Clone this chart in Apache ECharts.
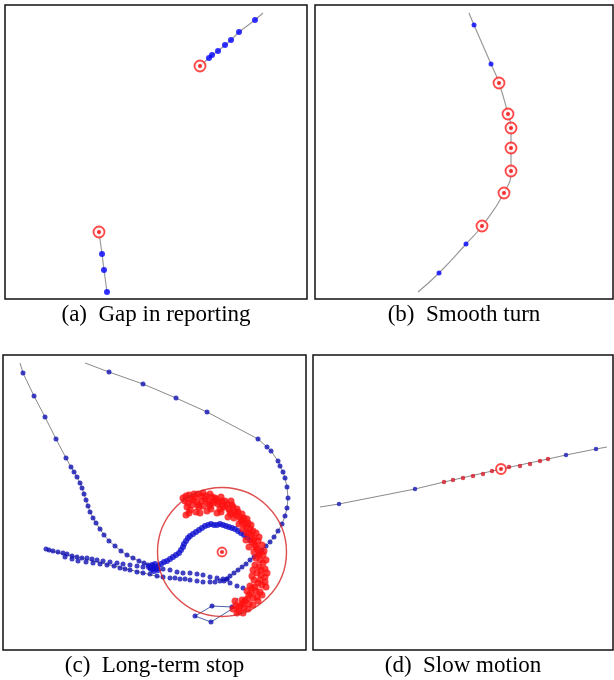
<!DOCTYPE html>
<html>
<head>
<meta charset="utf-8">
<script src="https://cdn.jsdelivr.net/npm/echarts@6/dist/echarts.min.js"></script>
<style>
  html, body { margin: 0; padding: 0; background: #fff; }
  #main { width: 614px; height: 680px; }
</style>
</head>
<body>
<div id="main"></div>
<script>
// panel captions
var captions = ['(a)  Gap in reporting', '(b)  Smooth turn', '(c)  Long-term stop', '(d)  Slow motion'];

// (a) gap in reporting: [x, y] in panel units, y down
var gapTrackTop = [[258, 8], [250, 15], [234, 27], [226, 35], [220, 40], [213, 46], [207, 50], [204, 53], [195, 61]];
var gapTrackBottom = [[94, 227], [97, 249], [99, 265], [102, 287]];
var gapFixes = [[250, 15], [234, 27], [226, 35], [220, 40], [213, 46], [207, 50], [204, 53], [97, 249], [99, 265], [102, 287]];
var gapEvents = [[195, 61], [94, 227]];

// (b) smooth turn
var turnTrack = [[154, 8], [159, 20], [176, 59], [184, 78], [193, 109], [196, 123], [196, 143], [196, 166], [189, 188], [167, 221], [151, 239], [124, 268], [103, 287]];
var turnFixes = [[159, 20], [176, 59], [151, 239], [124, 268]];
var turnEvents = [[184, 78], [193, 109], [196, 123], [196, 143], [196, 166], [189, 188], [167, 221]];

// (c) long-term stop
var stopTrackA = [[17, 8], [20, 18], [31, 41], [42, 62], [53, 84], [63, 103], [68, 112], [71, 117], [74, 122], [77, 128], [79, 133], [81, 139], [83, 145], [85, 151], [87, 157], [90, 163], [93, 168], [97, 174], [101, 180], [106, 186], [112, 191], [118, 196], [124, 200], [130, 203], [136, 206], [141, 208], [145, 210], [149, 212]];
var stopTrackB = [[82, 8], [106, 17], [140, 29], [173, 43], [204, 57], [255, 84], [264, 92], [268, 96], [275, 106], [277, 111], [280, 117], [282, 123], [284, 132], [285, 143], [284, 153], [282, 161], [279, 169], [275, 176], [271, 182], [267, 187], [263, 191], [259, 195], [255, 199], [251, 202], [247, 205], [243, 209], [239, 212], [235, 215], [231, 218], [227, 221], [224, 224], [221, 226]];
var stopTrackC = [[150, 214], [152, 213], [155, 211], [158, 209], [161, 207], [164, 206], [167, 204], [170, 202], [173, 200], [176, 198], [178, 195], [180, 192], [181, 189], [183, 186], [185, 183], [187, 181], [190, 179], [193, 177], [196, 175], [199, 173], [202, 171], [205, 170], [208, 169], [211, 170], [214, 170], [217, 169], [220, 170], [223, 171], [226, 172], [229, 173], [232, 174], [235, 176], [238, 178], [241, 180], [244, 182], [247, 185]];
var stopBundle1 = [[43, 194], [46, 195], [50, 196], [55, 197], [60, 198], [64, 199], [69, 201], [74, 202], [79, 203], [84, 203], [89, 204], [94, 205], [100, 206], [107, 207], [114, 208], [120, 209], [127, 210], [134, 211], [140, 212], [147, 213], [154, 214], [160, 214], [167, 215], [174, 217], [180, 218], [187, 218], [194, 219], [200, 220], [207, 222], [214, 223], [220, 224], [227, 228], [234, 231], [240, 233]];
var stopBundle2 = [[62, 202], [69, 204], [75, 206], [83, 207], [90, 208], [97, 209], [104, 210], [111, 211], [117, 213], [122, 214], [127, 215], [134, 217], [140, 218], [147, 219], [154, 221], [160, 222], [167, 223], [172, 223], [177, 224], [182, 224], [187, 225], [194, 226], [200, 227], [207, 227], [212, 227], [217, 226], [224, 224]];
var stopKnot = [[146, 212], [148, 214], [150, 211], [151, 216], [153, 213], [155, 215], [149, 210], [152, 209]];
var stopLink = [[44, 195], [157, 222]];
var stopDetour = [[235, 243], [229, 252], [209, 251], [192, 261], [208, 267], [237, 249]];
var stopDetourFixes = [[229, 252], [209, 251], [192, 261], [208, 267]];
var stopCluster = [
  [180, 143], [186, 140], [191, 139], [200, 138], [182, 146], [184, 152], [186, 158], [183, 160], [188, 144], [189, 150], [187, 155], [185, 148],
  [192, 142], [194, 147], [196, 152], [193, 157], [198, 141], [199, 146], [200, 151], [197, 158], [203, 141], [205, 146], [207, 151], [204, 156],
  [209, 142], [210, 148], [208, 154], [213, 144], [215, 149], [217, 154], [214, 158], [219, 146], [220, 151], [218, 157], [224, 149], [226, 154],
  [228, 159], [225, 162], [230, 152], [232, 157], [231, 163], [235, 157], [237, 162], [239, 167], [236, 169], [241, 163], [242, 169], [240, 174],
  [245, 168], [247, 174], [248, 180], [244, 178], [250, 176], [251, 183], [249, 187], [252, 190], [255, 186], [254, 194], [257, 197], [251, 197],
  [253, 203], [257, 205], [260, 200], [252, 210], [256, 212], [260, 208], [262, 214], [254, 218], [258, 220], [262, 222], [251, 225], [255, 228],
  [259, 230], [262, 227], [249, 233], [253, 236], [257, 237], [246, 240], [250, 243], [254, 242], [242, 246], [246, 249], [238, 250], [241, 253],
  [236, 256], [233, 251], [239, 245], [244, 236], [232, 246], [230, 254], [234, 258], [247, 231], [249, 221], [250, 215], [246, 192], [243, 185],
  [190, 145], [195, 150], [202, 144], [206, 149], [211, 146], [216, 147], [222, 152], [227, 157], [233, 160], [238, 165], [243, 172], [246, 178],
  [250, 185], [253, 192], [256, 200], [258, 215], [257, 225], [252, 232], [248, 238], [244, 244], [240, 248], [236, 252], [212, 143], [222, 146],
  [229, 150], [234, 154], [239, 159], [244, 164], [248, 170], [253, 178], [256, 182], [259, 190], [261, 196], [263, 205], [264, 218], [263, 232],
  [259, 240], [255, 246], [250, 250], [245, 254], [240, 258], [183, 141], [195, 139], [207, 139], [218, 142], [228, 146]
];
var stopCentre = [[219, 197]];

// (d) slow motion
var slowTrack = [[7, 152], [26, 149], [102, 134], [131, 127], [188, 114], [235, 104], [253, 100], [283, 94], [294, 92]];
var slowFixes = [[26, 149], [102, 134], [253, 100], [283, 94]];
var slowSlowFixes = [[131, 127], [140, 125], [150, 123], [160, 121], [170, 119], [179, 116], [196, 112], [207, 111], [217, 109], [227, 106], [235, 104]];
var slowEvents = [[188, 114]];

// panel frames in page pixels: left, top, width, height
var frames = [[5, 5, 302, 294], [315, 5, 298, 294], [3, 355, 303, 295], [313, 355, 300, 295]];

var grids = [], xAxes = [], yAxes = [], series = [];
frames.forEach(function (f, i) {
  grids.push({ left: f[0], top: f[1], width: f[2], height: f[3], show: true,
    borderColor: '#111', borderWidth: 1.5, backgroundColor: '#fff' });
  xAxes.push({ gridIndex: i, type: 'value', min: 0, max: f[2], show: false });
  yAxes.push({ gridIndex: i, type: 'value', min: 0, max: f[3], inverse: true, show: false });
});

function path(g, data, color, width, smooth) {
  series.push({ type: 'line', xAxisIndex: g, yAxisIndex: g, data: data, smooth: smooth || false,
    showSymbol: false, symbol: 'none', z: 2,
    lineStyle: { color: color, width: width } });
}
function dots(g, data, color, size, z) {
  series.push({ type: 'scatter', xAxisIndex: g, yAxisIndex: g, data: data, symbolSize: size, z: z || 3,
    itemStyle: { color: color } });
}
function targets(g, data, size) {
  series.push({ type: 'scatter', xAxisIndex: g, yAxisIndex: g, data: data, symbolSize: size, z: 5,
    itemStyle: { color: '#fff2f2', borderColor: '#ff1a1a', borderWidth: 1.8 } });
  series.push({ type: 'scatter', xAxisIndex: g, yAxisIndex: g, data: data, symbolSize: 4, z: 6,
    itemStyle: { color: '#ee0000' } });
}

// (a)
path(0, gapTrackTop, '#9a9a9a', 1.2);
path(0, gapTrackBottom, '#9a9a9a', 1.2);
dots(0, gapFixes, '#0000ff', 6);
targets(0, gapEvents, 11);

// (b)
path(1, turnTrack, '#9a9a9a', 1.2, 0.5);
dots(1, turnFixes, '#0000ff', 5);
targets(1, turnEvents, 11);

// (c)
path(2, stopTrackA, '#8a8a8a', 1);
path(2, stopTrackB, '#8a8a8a', 1);
path(2, stopLink, '#8a8a8a', 1);
path(2, stopDetour, '#4a64a8', 1);
dots(2, stopTrackA.slice(1), '#1212b4', 5);
dots(2, stopTrackB.slice(1), '#1212b4', 5);
dots(2, stopTrackC, '#1212d0', 6);
dots(2, stopBundle1, '#1212b4', 5);
dots(2, stopBundle2, '#1212b4', 5);
dots(2, stopKnot, '#1212d0', 6);
dots(2, stopDetourFixes, '#1212b4', 5);
dots(2, stopCluster, '#ff1010', 7, 4);
series.push({ type: 'scatter', xAxisIndex: 2, yAxisIndex: 2, data: stopCentre, symbolSize: 129, z: 4,
  itemStyle: { color: 'rgba(0,0,0,0)', borderColor: '#d42020', borderWidth: 1.4 } });
targets(2, stopCentre, 9);

// (d)
path(3, slowTrack, '#8a8a8a', 1);
dots(3, slowFixes, '#1a1ab8', 4.5);
dots(3, slowSlowFixes, '#d41a2a', 4.5);
targets(3, slowEvents, 10);

var graphic = captions.map(function (t, i) {
  var f = frames[i];
  return { type: 'text',
    style: { text: t, x: f[0] + f[2] / 2, y: f[1] + f[3] + 16, textAlign: 'center', textVerticalAlign: 'middle',
      font: '23px "Liberation Serif", serif', fill: '#000' } };
});

var chart = echarts.init(document.getElementById('main'));
chart.setOption({
  animation: false,
  grid: grids,
  xAxis: xAxes,
  yAxis: yAxes,
  series: series,
  graphic: graphic
});
</script>
</body>
</html>
